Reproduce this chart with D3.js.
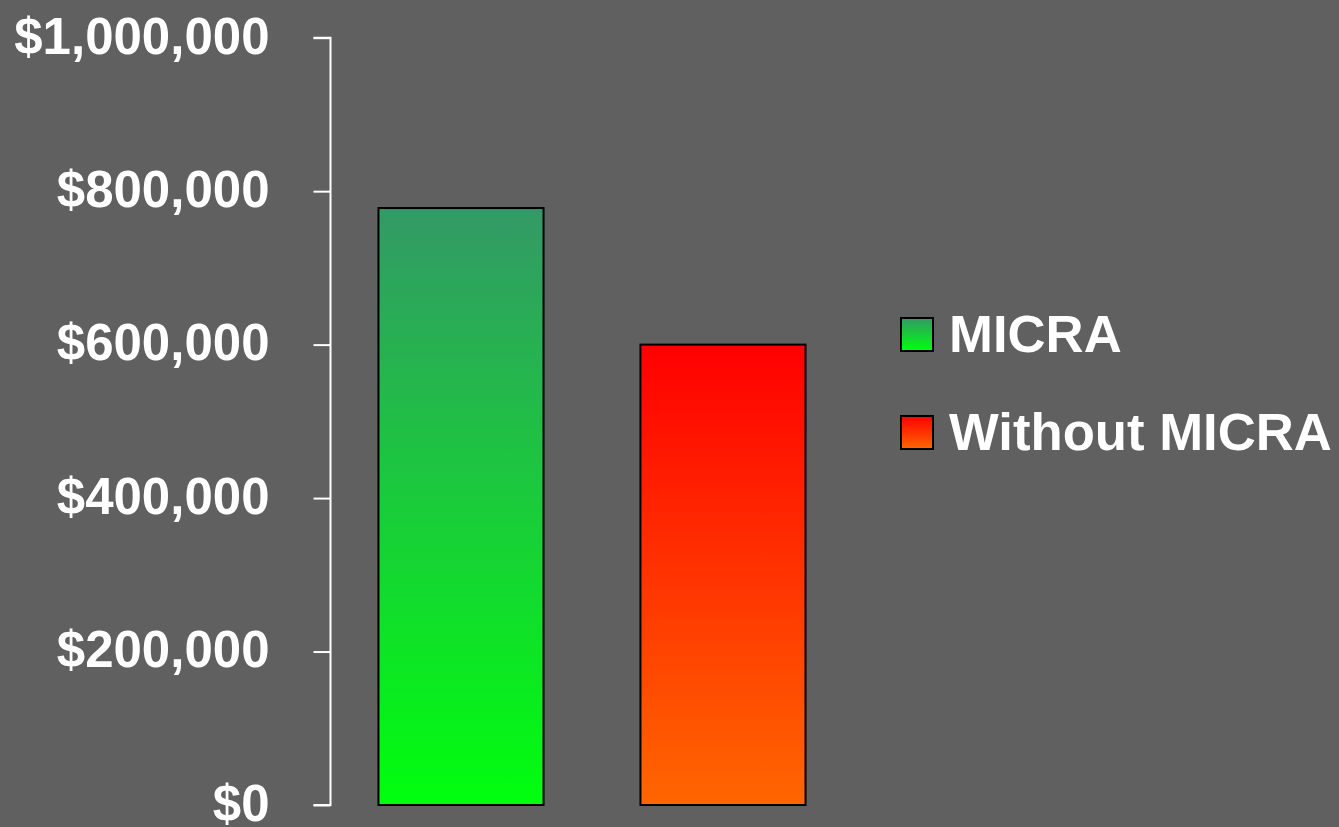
<!DOCTYPE html>
<html>
<head>
<meta charset="utf-8">
<script src="https://cdn.jsdelivr.net/npm/d3@7"></script>
<style>
  html, body { margin: 0; padding: 0; background: #606060; }
  svg { display: block; }
</style>
</head>
<body>
<svg id="chart" width="1339" height="827"></svg>
<script>
const categories = ["MICRA", "Without MICRA"];
const values = [778000, 600000];
const tickValues = [0, 200000, 400000, 600000, 800000, 1000000];
const tickLabels = ["$0", "$200,000", "$400,000", "$600,000", "$800,000", "$1,000,000"];
const gradTop = ["#339966", "#ff0000"];
const gradBottom = ["#00ff0e", "#ff6600"];

const svg = d3.select("#chart");
const W = 1339, H = 827;
svg.append("rect").attr("width", W).attr("height", H).attr("fill", "#606060");

const defs = svg.append("defs");
categories.forEach((c, i) => {
  const g = defs.append("linearGradient").attr("id", "grad" + i)
    .attr("x1", 0).attr("y1", 0).attr("x2", 0).attr("y2", 1);
  g.append("stop").attr("offset", "0%").attr("stop-color", gradTop[i]);
  g.append("stop").attr("offset", "100%").attr("stop-color", gradBottom[i]);
});

const y = d3.scaleLinear().domain([0, 1000000]).range([805, 37.7]);
const x = d3.scaleBand().domain(categories).range([330, 854])
  .paddingInner(0.37).paddingOuter(0.185);

// bars
svg.selectAll(".bar").data(categories).enter().append("rect")
  .attr("x", d => x(d))
  .attr("y", (d, i) => y(values[i]))
  .attr("width", x.bandwidth())
  .attr("height", (d, i) => y(0) - y(values[i]))
  .attr("fill", (d, i) => `url(#grad${i})`)
  .attr("stroke", "#000")
  .attr("stroke-width", 2);

// y axis
const axis = d3.axisLeft(y).tickValues(tickValues)
  .tickFormat((d, i) => tickLabels[i]).tickSize(17).tickPadding(44);
const ag = svg.append("g").attr("transform", "translate(330.5,0)").call(axis);
ag.select(".domain").attr("stroke", "#fff").attr("stroke-width", 2)
  .attr("d", `M-17,${y(1000000)}H0V${y(0)}H-17`);
ag.selectAll(".tick line").attr("stroke", "#fff").attr("stroke-width", 2);
ag.selectAll(".tick text")
  .attr("fill", "#fff")
  .attr("font-family", "'Liberation Sans', Arial, sans-serif")
  .attr("font-weight", "bold")
  .attr("font-size", 51)
  .attr("dy", "0.30em");

// legend
const legendY = [334, 432];
const lg = svg.append("g");
categories.forEach((c, i) => {
  lg.append("rect")
    .attr("x", 901).attr("y", legendY[i] - 16)
    .attr("width", 32).attr("height", 33)
    .attr("fill", `url(#grad${i})`)
    .attr("stroke", "#000").attr("stroke-width", 2);
  lg.append("text")
    .attr("x", 949).attr("y", legendY[i] + 18)
    .attr("fill", "#fff")
    .attr("font-family", "'Liberation Sans', Arial, sans-serif")
    .attr("font-weight", "bold")
    .attr("font-size", 52.7)
    .text(c);
});
</script>
</body>
</html>
